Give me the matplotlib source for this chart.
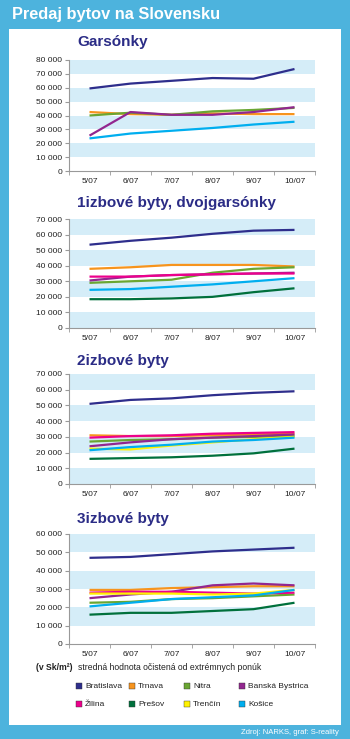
import matplotlib
matplotlib.use("Agg")
import matplotlib.pyplot as plt
import numpy as np
from matplotlib.patches import Rectangle
from matplotlib.ticker import FuncFormatter, MultipleLocator

plt.rcParams['font.family'] = ['Liberation Sans', 'DejaVu Sans']

months = ["5/07", "6/07", "7/07", "8/07", "9/07", "10/07"]
cities = ["Bratislava", "Trnava", "Nitra", "Banská Bystrica",
          "Žilina", "Prešov", "Trenčín", "Košice"]
colors = {"Bratislava": "#2e2e8c", "Trnava": "#f7941d", "Nitra": "#6aa632",
          "Banská Bystrica": "#92278f", "Žilina": "#ec008c", "Prešov": "#00703c",
          "Trenčín": "#fff200", "Košice": "#00aeef"}

nan = np.nan
# Sk/m2
garsonky = {
    "Bratislava": [59500, 63000, 65000, 67000, 66500, 73500],
    "Trnava": [42500, 41000, 40500, 41500, 41000, 41000],
    "Nitra": [40000, 42000, 40500, 43000, 44000, 45500],
    "Banská Bystrica": [25500, 42500, 40500, 40500, 42500, 46000],
    "Žilina": [nan] * 6,
    "Prešov": [nan] * 6,
    "Trenčín": [nan] * 6,
    "Košice": [23500, 27000, 29000, 31000, 33500, 35500],
}
izb1 = {
    "Bratislava": [53500, 56000, 58000, 60500, 62500, 63000],
    "Trnava": [38000, 39000, 40500, 40500, 40500, 39500],
    "Nitra": [29000, 30000, 31000, 35500, 38000, 39000],
    "Banská Bystrica": [30500, 33000, 34000, 34500, 35000, 35500],
    "Žilina": [33000, 33000, 34000, 34500, 35000, 35000],
    "Prešov": [18500, 18500, 19000, 20000, 23000, 25500],
    "Trenčín": [nan] * 6,
    "Košice": [24500, 25000, 26500, 28000, 30000, 32000],
}
izb2 = {
    "Bratislava": [51000, 53500, 54500, 56500, 58000, 59000],
    "Trnava": [31000, 30500, 30500, 31000, 31500, 32000],
    "Nitra": [27000, 28000, 28500, 29500, 30000, 30500],
    "Banská Bystrica": [24000, 26500, 28500, 29500, 30500, 31500],
    "Žilina": [29500, 30500, 31000, 32000, 32500, 33000],
    "Prešov": [16000, 16500, 17000, 18000, 19500, 22500],
    "Trenčín": [22500, 22000, 24500, 26500, 28500, 30000],
    "Košice": [21500, 23500, 25000, 27000, 28000, 29500],
}
izb3 = {
    "Bratislava": [47000, 47500, 49000, 50500, 51500, 52500],
    "Trnava": [29500, 29500, 30500, 31000, 31500, 31500],
    "Nitra": [22500, 23000, 24500, 25000, 26000, 27000],
    "Banská Bystrica": [25000, 27000, 28500, 32000, 33000, 32000],
    "Žilina": [28000, 28500, 28500, 28000, 27500, 28000],
    "Prešov": [16000, 17000, 17000, 18000, 19000, 22500],
    "Trenčín": [27500, 27500, 27500, 27000, 27500, 29500],
    "Košice": [20500, 22500, 24500, 25500, 26500, 29500],
}

panels = [
    ("Garsónky", garsonky, 80000, 60, 171, 42),
    ("1izbové byty, dvojgarsónky", izb1, 70000, 219, 328, 203),
    ("2izbové byty", izb2, 70000, 374, 484, 361),
    ("3izbové byty", izb3, 60000, 534, 644, 519),
]

W, H = 350, 739
frame = "#4db3dd"
band = "#d5edf8"
navy = "#2b2c86"


def fx(px):
    return px / W


def fy(py):
    return 1 - py / H


fig = plt.figure(figsize=(W / 100, H / 100), dpi=100, facecolor=frame)
fig.add_artist(Rectangle((fx(9), fy(725)), fx(341 - 9), (725 - 29) / H,
                         transform=fig.transFigure, facecolor="white",
                         edgecolor="none", zorder=-10))
fig.text(fx(12), fy(15), "Predaj bytov na Slovensku", color="white",
         fontsize=11.8, fontweight="bold", va="center", ha="left")
fig.text(fx(339), fy(733), "Zdroj: NARKS, graf: S-reality", color="white",
         fontsize=5.5, va="center", ha="right")

thousands = FuncFormatter(lambda v, p: f"{int(v):,}".replace(",", " "))
x = np.arange(len(months))

for title, data, top, ytop, ybot, ytitle in panels:
    ax = fig.add_axes([fx(69), fy(ybot), fx(315 - 69), (ybot - ytop) / H])
    for k in range(top, 0, -20000):
        ax.axhspan(k - 10000, k, color=band, lw=0, zorder=0)
    for c in cities:
        ax.plot(x, data[c], color=colors[c], lw=1.6, zorder=2,
                solid_capstyle="butt")
    ax.set_xlim(-0.5, 5.5)
    ax.set_ylim(0, top)
    ax.yaxis.set_major_locator(MultipleLocator(10000))
    ax.yaxis.set_major_formatter(thousands)
    ax.set_xticks(x)
    ax.set_xticklabels(months)
    ax.set_xticks(np.arange(-0.5, 6, 1), minor=True)
    ax.tick_params(axis="x", which="major", length=0, labelsize=6, pad=5,
                   colors="#222222")
    ax.tick_params(axis="x", which="minor", length=3, color="#999999")
    ax.tick_params(axis="y", length=3, color="#999999", labelsize=6,
                   pad=2, labelcolor="#222222")
    for s in ["top", "right"]:
        ax.spines[s].set_visible(False)
    for s in ["left", "bottom"]:
        ax.spines[s].set_color("#999999")
        ax.spines[s].set_linewidth(0.8)
    ax.set_facecolor("white")
    fig.text(fx(77), fy(ytitle), title, color=navy, fontsize=11,
             fontweight="bold", va="center", ha="left")

fig.text(fx(36), fy(668), "(v Sk/m²)", fontsize=6.2, fontweight="bold",
         va="center", ha="left", color="#222222")
fig.text(fx(78), fy(668), "stredná hodnota očistená od extrémnych ponúk",
         fontsize=6.2, va="center", ha="left", color="#222222")

# legend laid out in two rows of four like the original
col_x = [79, 132, 187, 242]
row_y = [686, 704]
for i, c in enumerate(cities):
    cx = col_x[i % 4]
    cy = row_y[i // 4]
    fig.add_artist(Rectangle((fx(cx - 3), fy(cy + 3)), fx(6), 6 / H,
                             transform=fig.transFigure,
                             facecolor=colors[c], edgecolor="#333333",
                             lw=0.3))
    fig.text(fx(cx + 6), fy(cy), c, fontsize=6, va="center", ha="left",
             color="#222222")

fig.savefig("out.png", dpi=100, facecolor=frame)
